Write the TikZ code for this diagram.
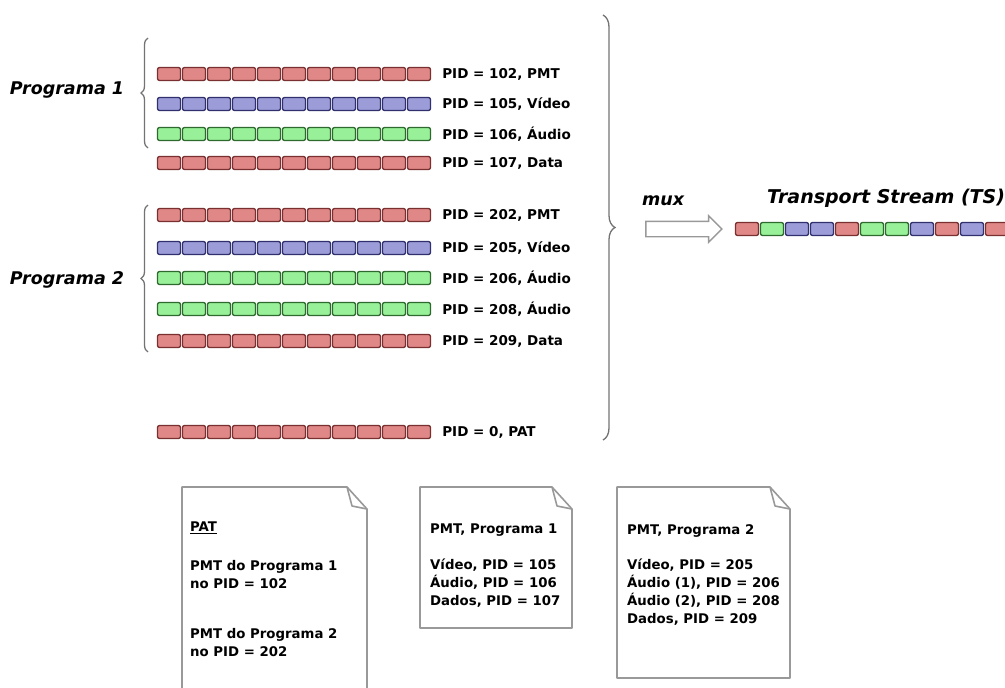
\documentclass[tikz,border=0pt]{standalone}
\usepackage{fontspec}
\setmainfont{DejaVu Sans}
\usetikzlibrary{shapes.arrows,decorations.pathreplacing,positioning}

\definecolor{cellred}{HTML}{E08888}
\definecolor{edgered}{HTML}{7A3030}
\definecolor{cellblue}{HTML}{9C9CD8}
\definecolor{edgeblue}{HTML}{30306E}
\definecolor{cellgreen}{HTML}{98F098}
\definecolor{edgegreen}{HTML}{2E6A2E}

% one row of 11 packets: y, colour, name
\newcommand{\pidrow}[3]{%
  \foreach \i in {0,...,10}
    \node[cell,fill=cell#2,draw=edge#2] (#3-\i) at ({169+25*\i},#1) {};
}
% a sheet of paper with a folded corner: x1, y1, x2, y2
\newcommand{\foldpage}[4]{%
  \draw[page] (#1,#2) -- ({#3-20},#2) -- (#3,{#2+22}) -- (#3,#4) -- (#1,#4) -- cycle;
  \draw[page] ({#3-20},#2) -- ({#3-15},{#2+19}) -- (#3,{#2+22});
}

\begin{document}
\begin{tikzpicture}[x=1pt,y=-1pt,
    cell/.style={rectangle,rounded corners=2pt,minimum width=23pt,minimum height=13pt,inner sep=0pt,line width=1.3pt},
    lbl/.style={anchor=west,inner sep=1pt,font=\fontsize{13.5}{16}\selectfont\bfseries},
    prog/.style={inner sep=1pt,font=\fontsize{17.5}{20}\selectfont\bfseries\itshape},
    txt/.style={anchor=north west,inner sep=0pt,align=left,font=\fontsize{13.3}{18}\selectfont\bfseries},
    curly/.style={draw=gray!90!black,line width=1.3pt,decorate},
    page/.style={draw=gray!80,line width=1.6pt,line join=round}]
  \useasboundingbox (0,0) rectangle (1005,688);

  % Programa 1
  \pidrow{74}{red}{pa}
  \pidrow{104}{blue}{pb}
  \pidrow{134}{green}{pc}
  \pidrow{163}{red}{pd}
  \node[lbl,right=10pt of pa-10] (la) {PID = 102, PMT};
  \node[lbl,right=10pt of pb-10] (lb) {PID = 105, Vídeo};
  \node[lbl,right=10pt of pc-10] (lc) {PID = 106, Áudio};
  \node[lbl,right=10pt of pd-10] (ld) {PID = 107, Data};
  \draw[curly,decoration={brace,amplitude=7pt}] (148,148) -- (148,38);
  \node[prog] (prog1) at (67,90) {Programa 1};

  % Programa 2
  \pidrow{215}{red}{qa}
  \pidrow{248}{blue}{qb}
  \pidrow{278}{green}{qc}
  \pidrow{309}{green}{qd}
  \pidrow{341}{red}{qe}
  \node[lbl,right=10pt of qa-10] (ma) {PID = 202, PMT};
  \node[lbl,right=10pt of qb-10] (mb) {PID = 205, Vídeo};
  \node[lbl,right=10pt of qc-10] (mc) {PID = 206, Áudio};
  \node[lbl,right=10pt of qd-10] (md) {PID = 208, Áudio};
  \node[lbl,right=10pt of qe-10] (me) {PID = 209, Data};
  \draw[curly,decoration={brace,amplitude=7pt}] (148,352) -- (148,205);
  \node[prog] (prog2) at (67,280) {Programa 2};

  % PAT
  \pidrow{432}{red}{ra}
  \node[lbl,right=10pt of ra-10] (na) {PID = 0, PAT};

  % mux
  \draw[curly,decoration={brace,amplitude=12pt}] (603,15) -- (603,440);
  \node[single arrow,draw=gray!80,line width=1.4pt,fill=white,inner sep=0pt,inner ysep=7pt,
        minimum height=76pt,single arrow head extend=5.5pt] (mux) at (680,229) {};
  \node[prog,anchor=west] (muxt) at (641,201) {mux};

  % Transport Stream
  \foreach \c [count=\i from 0] in {red,green,blue,blue,red,green,green,blue,red,blue,red}
    \node[cell,fill=cell\c,draw=edge\c] (ts-\i) at ({747+25*\i},229) {};
  \node[prog,anchor=west,font=\fontsize{19}{22}\selectfont\bfseries\itshape] (tst) at (766,198) {Transport Stream (TS)};

  % tables
  \foldpage{182}{487}{367}{700}
  \node[txt] (pat) at (190,522) {\underline{PAT}};
  \node[txt] (pat1) at (190,560) {PMT do Programa 1\\no PID = 102};
  \node[txt] (pat2) at (190,628) {PMT do Programa 2\\no PID = 202};

  \foldpage{420}{487}{572}{628}
  \node[txt] (pmt1) at (430,524) {PMT, Programa 1};
  \node[txt] (pmt1b) at (430,559) {Vídeo, PID = 105\\Áudio, PID = 106\\Dados, PID = 107};

  \foldpage{617}{487}{790}{678}
  \node[txt] (pmt2) at (627,524) {PMT, Programa 2};
  \node[txt] (pmt2b) at (627,559) {Vídeo, PID = 205\\Áudio (1), PID = 206\\Áudio (2), PID = 208\\Dados, PID = 209};
\end{tikzpicture}
\end{document}
